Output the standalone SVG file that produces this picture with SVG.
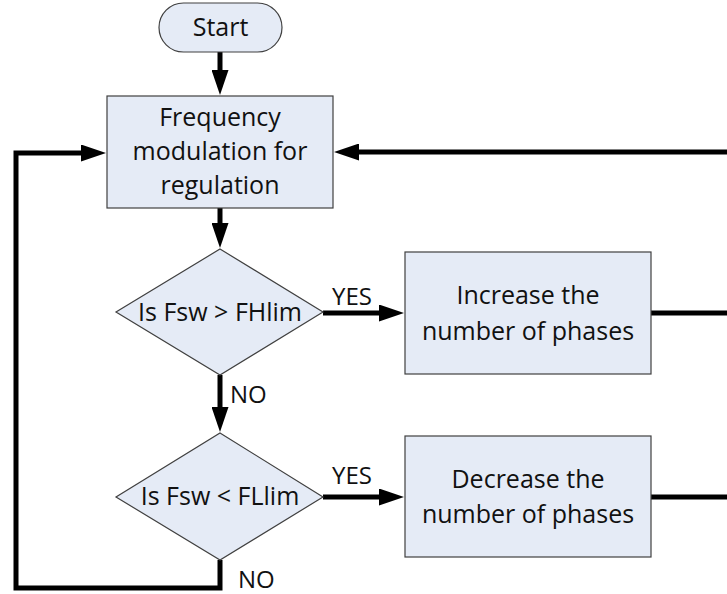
<svg xmlns="http://www.w3.org/2000/svg" width="727" height="594" viewBox="0 0 727 594">
  <style>
    .shape { fill: #E5EBF6; stroke: #404040; stroke-width: 1.2; }
    .txt { font-family: "Open Sans", "Liberation Sans", sans-serif; font-size: 25px; fill: #111111; text-anchor: middle; }
    .lbl { font-family: "Open Sans", "Liberation Sans", sans-serif; font-size: 24px; fill: #111111; }
    .conn { fill: none; stroke: #000000; stroke-width: 5; stroke-linejoin: miter; }
  </style>
  <defs>
    <marker id="arrow" markerUnits="userSpaceOnUse" markerWidth="26" markerHeight="17" refX="1" refY="8.5" orient="auto">
      <path d="M0,0 L25,8.5 L0,17 Z" fill="#000000"/>
    </marker>
  </defs>
  <rect width="727" height="594" fill="#FFFFFF"/>

  <g id="connectors">
    <path class="conn" d="M220,52 V71" marker-end="url(#arrow)"/>
    <path class="conn" d="M220,208 V224" marker-end="url(#arrow)"/>
    <path class="conn" d="M220,375 V408" marker-end="url(#arrow)"/>
    <path class="conn" d="M323,313 H380" marker-end="url(#arrow)"/>
    <path class="conn" d="M323,497 H380" marker-end="url(#arrow)"/>
    <path class="conn" d="M220,560 V588 H16 V153 H82" marker-end="url(#arrow)"/>
    <path class="conn" d="M651,313 H740" stroke-linecap="round"/>
    <path class="conn" d="M651,497 H740" stroke-linecap="round"/>
    <path class="conn" d="M740,152 H358" marker-end="url(#arrow)"/>
    <text class="lbl" x="332" y="305">YES</text>
    <text class="lbl" x="230" y="403">NO</text>
    <text class="lbl" x="332" y="484">YES</text>
    <text class="lbl" x="238" y="588">NO</text>
  </g>

  <g id="start">
    <rect class="shape" x="159" y="3" width="123" height="49" rx="24.5" ry="24.5"/>
    <text class="txt" x="220.5" y="36">Start</text>
  </g>

  <g id="freq-mod">
    <rect class="shape" x="107" y="96" width="226" height="112"/>
    <text class="txt" x="220" y="126">Frequency</text>
    <text class="txt" x="220" y="160">modulation for</text>
    <text class="txt" x="220" y="194">regulation</text>
  </g>

  <g id="decision-high">
    <polygon class="shape" points="220,249 323,312 220,375 116,312"/>
    <text class="txt" x="220" y="321">Is Fsw &gt; FHlim</text>
  </g>

  <g id="increase">
    <rect class="shape" x="405" y="252" width="246" height="122"/>
    <text class="txt" x="528" y="304">Increase the</text>
    <text class="txt" x="528" y="340">number of phases</text>
  </g>

  <g id="decision-low">
    <polygon class="shape" points="220,433 323,497 220,560 116,497"/>
    <text class="txt" x="220" y="505">Is Fsw &lt; FLlim</text>
  </g>

  <g id="decrease">
    <rect class="shape" x="405" y="436" width="246" height="121"/>
    <text class="txt" x="528" y="488">Decrease the</text>
    <text class="txt" x="528" y="523">number of phases</text>
  </g>
</svg>
